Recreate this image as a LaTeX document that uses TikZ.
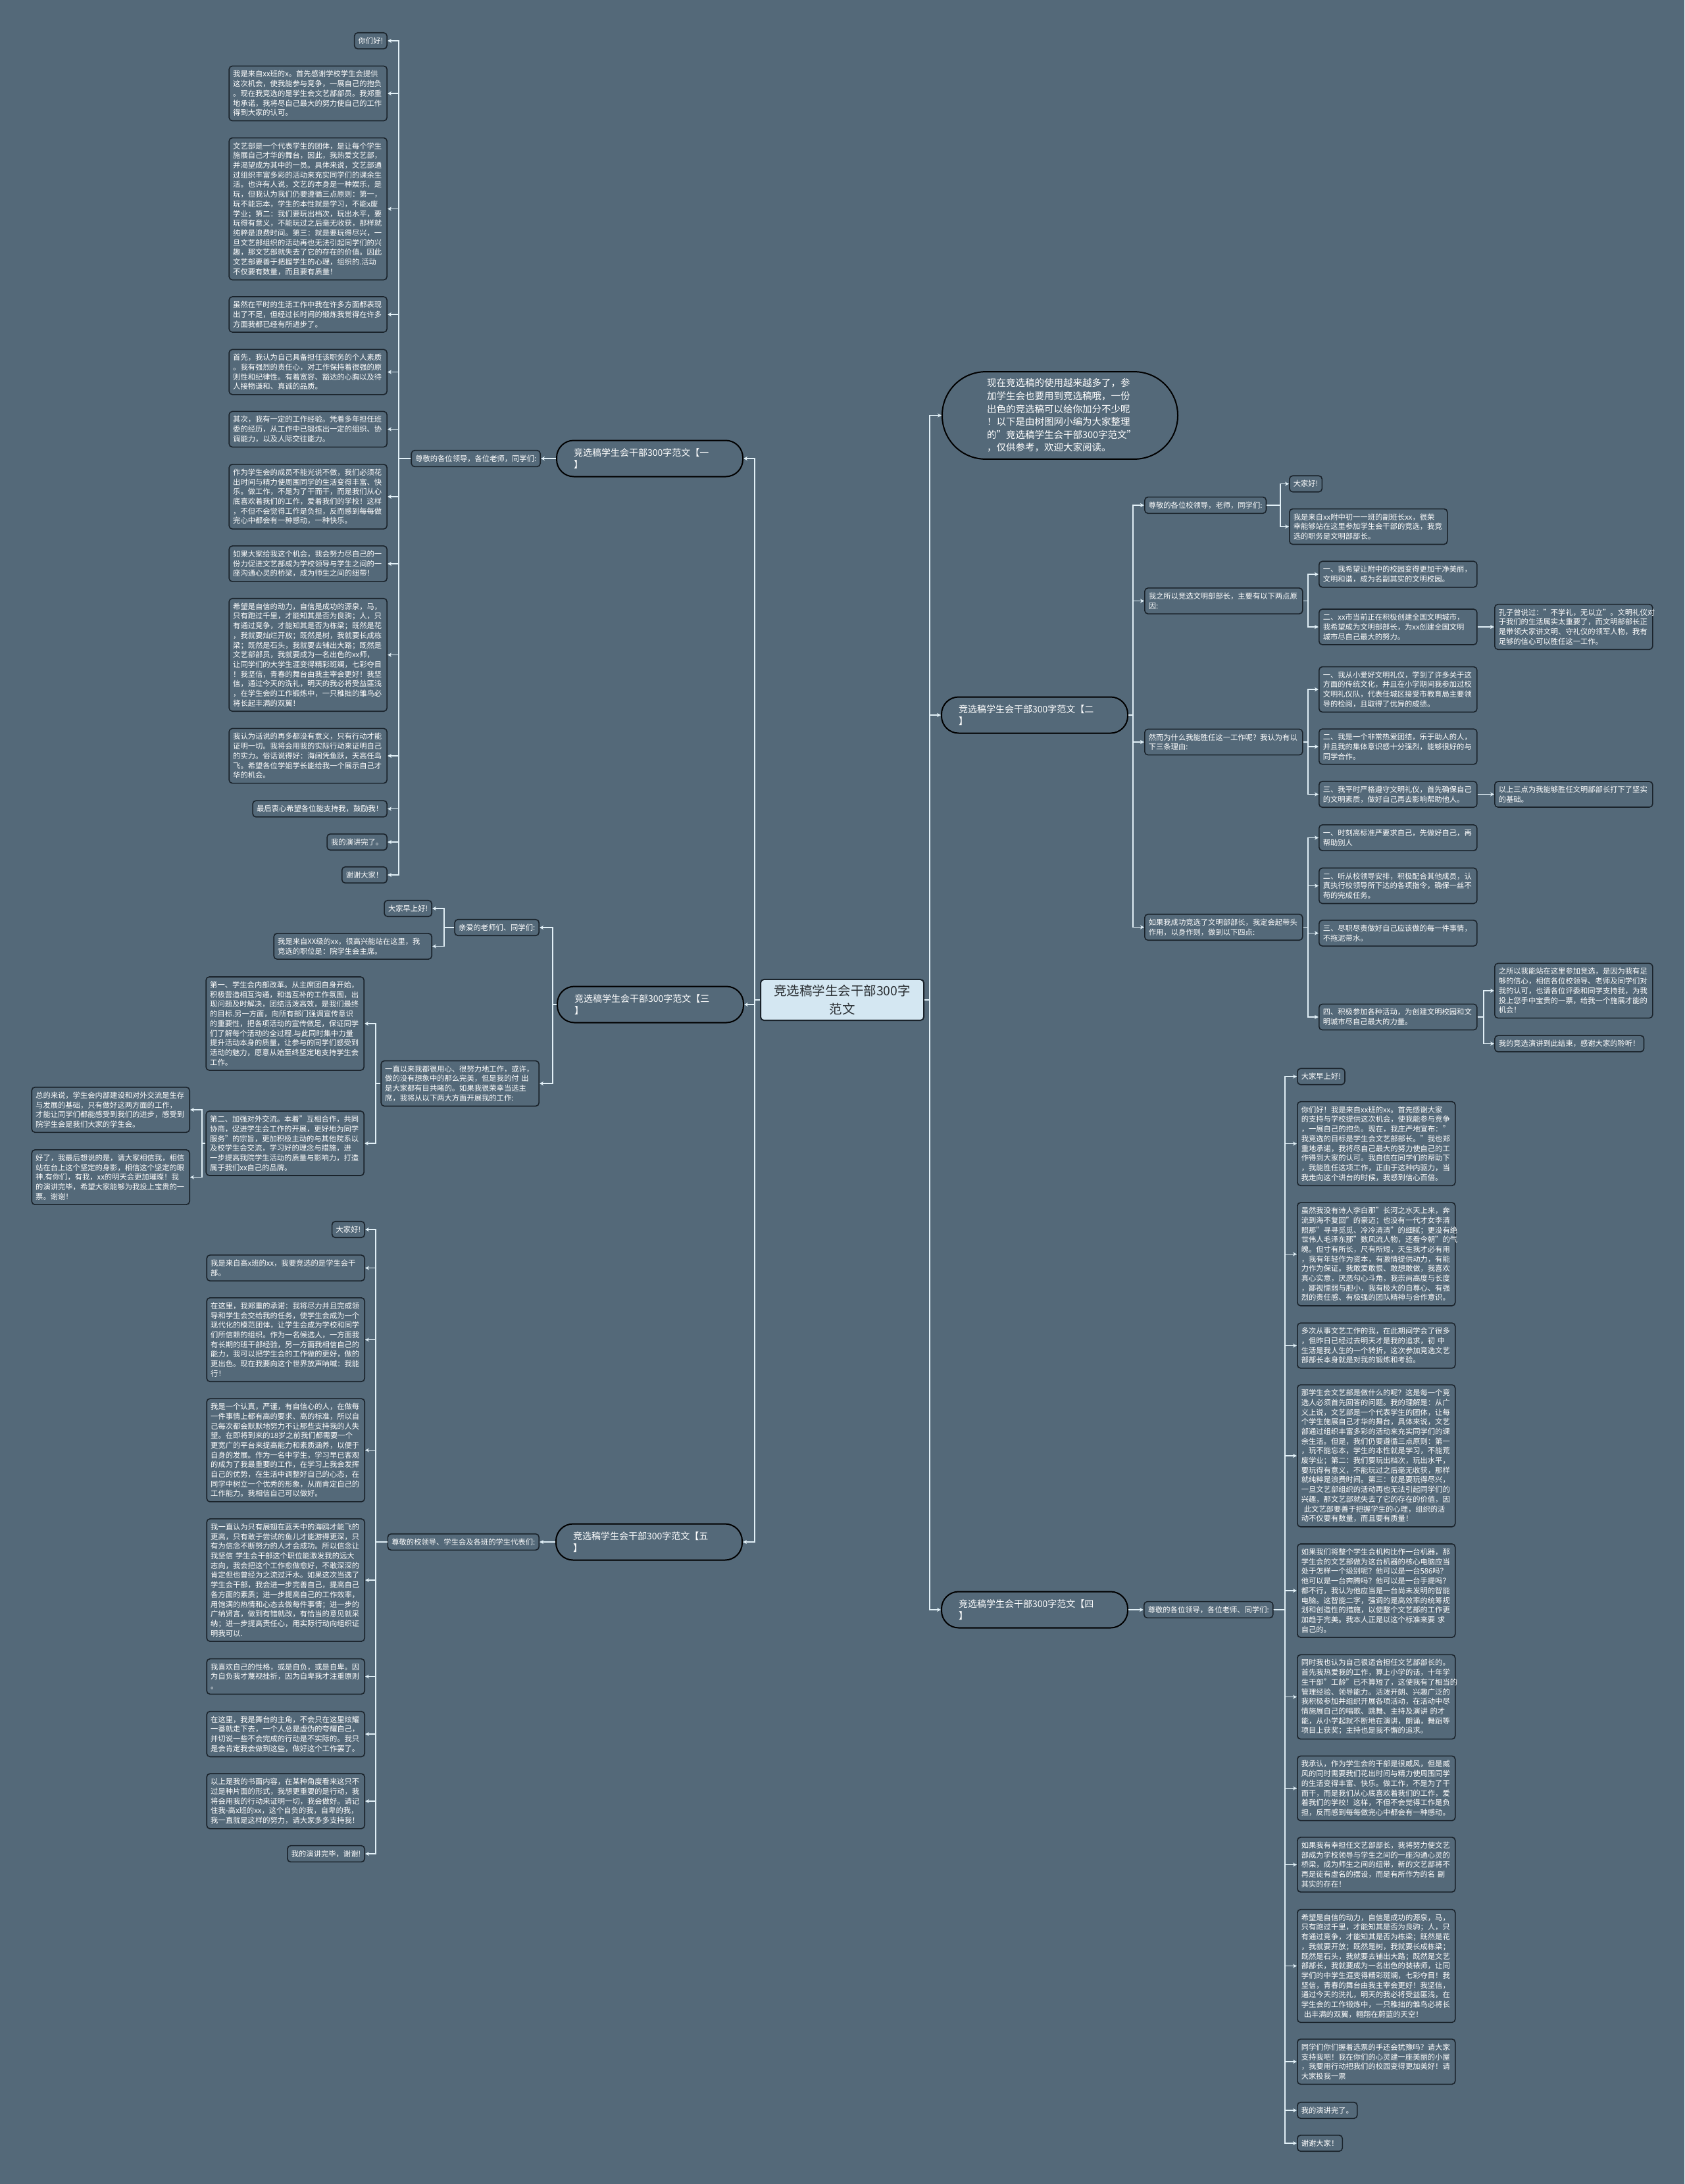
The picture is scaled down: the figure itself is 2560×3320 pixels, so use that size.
\documentclass[tikz,border=0pt]{standalone}
\usepackage{fontspec}
\setmainfont{Noto Sans CJK SC}
\usetikzlibrary{arrows.meta}
\definecolor{bgc}{HTML}{546979}
\definecolor{nodeline}{HTML}{1A232B}
\definecolor{linec}{HTML}{E2F0F7}
\definecolor{rootfill}{HTML}{D4E7F2}
\definecolor{roottext}{HTML}{2A2F33}
\begin{document}
\begin{tikzpicture}[x=1pt,y=-1pt,
 leaf/.style={draw=nodeline,line width=1.6pt,fill=bgc,rounded corners=5pt,text=white,
   font=\fontsize{11.3}{14.7}\selectfont,inner xsep=6pt,inner ysep=7pt,align=left},
 wide/.style={leaf,text width=228pt},
 branch/.style={draw=black,line width=2pt,fill=bgc,rounded corners=26pt,text=white,
   font=\fontsize{14}{18.3}\selectfont,text width=231pt,inner xsep=26pt,inner ysep=9pt,
   align=left,minimum height=55pt},
 introbox/.style={draw=black,line width=2pt,fill=bgc,rounded corners=66pt,text=white,
   font=\fontsize{14.5}{19.6}\selectfont,text width=222pt,inner xsep=68pt,inner ysep=10.5pt,
   align=left},
 rootbox/.style={draw=nodeline,line width=2pt,fill=rootfill,rounded corners=5pt,text=roottext,
   font=\fontsize{19.5}{28}\selectfont,text width=228pt,inner xsep=10pt,inner ysep=8pt,align=center},
 conn/.style={draw=linec,line width=1.6pt,-{Stealth[length=6pt,width=6pt]}}]
\useasboundingbox (0,0) rectangle (2560,3320);
\fill[bgc] (0,0) rectangle (2560,3320);

% ---------- root ----------
\node[rootbox] (root) at (1280,1520) {竞选稿学生会干部300字\\范文};

% ---------- branch nodes ----------
\node[branch,anchor=east] (b1) at (1130,697) {竞选稿学生会干部300字范文【一\\】};
\node[branch,anchor=east] (b3) at (1131,1527) {竞选稿学生会干部300字范文【三\\】};
\node[branch,anchor=east] (b5) at (1129,2344) {竞选稿学生会干部300字范文【五\\】};
\node[introbox,anchor=west] (intro) at (1431,631.5) {现在竞选稿的使用越来越多了，参\\加学生会也要用到竞选稿哦，一份\\出色的竞选稿可以给你加分不少呢\\！以下是由树图网小编为大家整理\\的"竞选稿学生会干部300字范文"\\，仅供参考，欢迎大家阅读。};
\node[branch,anchor=west] (b2) at (1430,1087) {竞选稿学生会干部300字范文【二\\】};
\node[branch,anchor=west] (b4) at (1430,2447) {竞选稿学生会干部300字范文【四\\】};

% ---------- branch 1 ----------
\node[leaf,anchor=east] (l1) at (822,697) {尊敬的各位领导，各位老师，同学们:};
\node[leaf,anchor=east] (n1a) at (589,62) {你们好!};
\node[wide,anchor=east] (n1b) at (589,142) {我是来自xx班的x。首先感谢学校学生会提供\\这次机会，使我能参与竞争，一展自己的抱负\\。现在我竞选的是学生会文艺部部员。我郑重\\地承诺，我将尽自己最大的努力使自己的工作\\得到大家的认可。};
\node[wide,anchor=east] (n1c) at (589,317.5) {文艺部是一个代表学生的团体，是让每个学生\\施展自己才华的舞台，因此，我热爱文艺部，\\并渴望成为其中的一员。具体来说，文艺部通\\过组织丰富多彩的活动来充实同学们的课余生\\活。也许有人说，文艺的本身是一种娱乐，是\\玩，但我认为我们仍要遵循三点原则：第一，\\玩不能忘本，学生的本性就是学习，不能x废\\学业；第二：我们要玩出档次，玩出水平，要\\玩得有意义，不能玩过之后毫无收获，那样就\\纯粹是浪费时间。第三：就是要玩得尽兴，一\\旦文艺部组织的活动再也无法引起同学们的兴\\趣，那文艺部就失去了它的存在的价值。因此\\文艺部要善于把握学生的心理，组织的.活动\\不仅要有数量，而且要有质量！};
\node[wide,anchor=east] (n1d) at (589,478) {虽然在平时的生活工作中我在许多方面都表现\\出了不足，但经过长时间的锻炼我觉得在许多\\方面我都已经有所进步了。};
\node[wide,anchor=east] (n1e) at (589,565.5) {首先，我认为自己具备担任该职务的个人素质\\。我有强烈的责任心，对工作保持着很强的原\\则性和纪律性。有着宽容、豁达的心胸以及待\\人接物谦和、真诚的品质。};
\node[wide,anchor=east] (n1f) at (589,652.5) {其次，我有一定的工作经验。凭着多年担任班\\委的经历，从工作中已锻炼出一定的组织、协\\调能力，以及人际交往能力。};
\node[wide,anchor=east] (n1g) at (589,755) {作为学生会的成员不能光说不做，我们必须花\\出时间与精力使周围同学的生活变得丰富、快\\乐。做工作，不是为了干而干，而是我们从心\\底喜欢着我们的工作，爱着我们的学校！这样\\，不但不会觉得工作是负担，反而感到每每做\\完心中都会有一种感动，一种快乐。};
\node[wide,anchor=east] (n1h) at (589,857) {如果大家给我这个机会，我会努力尽自己的一\\份力促进文艺部成为学校领导与学生之间的一\\座沟通心灵的桥梁，成为师生之间的纽带！};
\node[wide,anchor=east] (n1i) at (589,995.5) {希望是自信的动力，自信是成功的源泉，马，\\只有跑过千里，才能知其是否为良驹；人，只\\有通过竞争，才能知其是否为栋梁；既然是花\\，我就要灿烂开放；既然是树，我就要长成栋\\梁；既然是石头，我就要去铺出大路；既然是\\文艺部部员，我就要成为一名出色的xx师，\\让同学们的大学生涯变得精彩斑斓，七彩夺目\\！我坚信，青春的舞台由我主宰会更好！我坚\\信，通过今天的洗礼，明天的我必将受益匪浅\\，在学生会的工作锻炼中，一只稚拙的雏鸟必\\将长起丰满的双翼！};
\node[wide,anchor=east] (n1j) at (589,1149) {我认为话说的再多都没有意义，只有行动才能\\证明一切。我将会用我的实际行动来证明自己\\的实力。俗话说得好：海阔凭鱼跃，天高任鸟\\飞。希望各位学姐学长能给我一个展示自己才\\华的机会。};
\node[leaf,anchor=east] (n1k) at (589,1229.5) {最后衷心希望各位能支持我，鼓励我！};
\node[leaf,anchor=east] (n1l) at (589,1280) {我的演讲完了。};
\node[leaf,anchor=east] (n1m) at (589,1330) {谢谢大家！};

% ---------- branch 3 ----------
\node[leaf,anchor=east] (l3a) at (820,1410) {亲爱的老师们、同学们:};
\node[leaf,anchor=east] (n3a) at (657,1381) {大家早上好!};
\node[wide,anchor=east] (n3b) at (657,1438.5) {我是来自XX级的xx，很高兴能站在这里，我\\竞选的职位是：院学生会主席。};
\node[wide,anchor=east] (l3b) at (820,1647) {一直以来我都很用心、很努力地工作，或许，\\做的没有想象中的那么完美，但是我的付 出\\是大家都有目共睹的。如果我很荣幸当选主\\席，我将从以下两大方面开展我的工作:};
\node[wide,anchor=east] (n3c) at (554,1556) {第一、学生会内部改革。从主席团自身开始，\\积极营造相互沟通，和谐互补的工作氛围，出\\现问题及时解决，团结活泼高效，是我们最终\\的目标.另一方面，向所有部门强调宣传意识\\的重要性，把各项活动的宣传做足，保证同学\\们了解每个活动的全过程.与此同时集中力量\\提升活动本身的质量，让参与的同学们感受到\\活动的魅力，愿意从始至终坚定地支持学生会\\工作。};
\node[wide,anchor=east] (n3d) at (554,1738) {第二、加强对外交流。本着"互相合作，共同\\协商，促进学生会工作的开展，更好地为同学\\服务"的宗旨，更加积极主动的与其他院系以\\及校学生会交流，学习好的理念与措施，进\\一步提高我院学生活动的质量与影响力，打造\\属于我们xx自己的品牌。};
\node[wide,anchor=east] (n3e) at (289,1687) {总的来说，学生会内部建设和对外交流是生存\\与发展的基础，只有做好这两方面的工作，\\才能让同学们都能感受到我们的进步，感受到\\院学生会是我们大家的学生会。};
\node[wide,anchor=east] (n3f) at (289,1789.5) {好了，我最后想说的是，请大家相信我，相信\\站在台上这个坚定的身影，相信这个坚定的眼\\神.有你们，有我，xx的明天会更加璀璨！我\\的演讲完毕，希望大家能够为我投上宝贵的一\\票。谢谢！};

% ---------- branch 5 ----------
\node[leaf,anchor=east] (l5) at (820,2344) {尊敬的校领导、学生会及各班的学生代表们:};
\node[leaf,anchor=east] (n5a) at (555,1869) {大家好!};
\node[wide,anchor=east] (n5b) at (555,1927.5) {我是来自高x班的xx，我要竞选的是学生会干\\部。};
\node[wide,anchor=east] (n5c) at (555,2036.5) {在这里，我郑重的承诺：我将尽力并且完成领\\导和学生会交给我的任务，使学生会成为一个\\现代化的模范团体，让学生会成为学校和同学\\们所信赖的组织。作为一名候选人，一方面我\\有长期的班干部经验，另一方面我相信自己的\\能力，我可以把学生会的工作做的更好，做的\\更出色。现在我要向这个世界放声呐喊：我能\\行！};
\node[wide,anchor=east] (n5d) at (555,2204.5) {我是一个认真，严谨，有自信心的人，在做每\\一件事情上都有高的要求、高的标准，所以自\\己每次都会默默地努力不让那些支持我的人失\\望。在即将到来的18岁之前我们都需要一个\\更宽广的平台来提高能力和素质涵养，以便于\\自身的发展。作为一名中学生，学习早已客观\\的成为了我最重要的工作，在学习上我会发挥\\自己的优势，在生活中调整好自己的心态，在\\同学中树立一个优秀的形象，从而肯定自己的\\工作能力。我相信自己可以做好。};
\node[wide,anchor=east] (n5e) at (555,2402) {我一直认为只有展翅在蓝天中的海鸥才能飞的\\更高，只有敢于尝试的鱼儿才能游得更深，只\\有为信念不断努力的人才会成功。所以信念让\\我坚信 学生会干部这个职位能激发我的远大\\志向，我会把这个工作愈做愈好，不敢深深的\\肯定但也曾经为之流过汗水。如果这次当选了\\学生会干部，我会进一步完善自己，提高自己\\各方面的素质；进一步提高自己的工作效率，\\用饱满的热情和心态去做每件事情；进一步的\\广纳贤言，做到有错就改，有恰当的意见就采\\纳；进一步提高责任心，用实际行动向组织证\\明我可以.};
\node[wide,anchor=east] (n5f) at (555,2548.5) {我喜欢自己的性格，或是自负，或是自卑。因\\为自负我才蔑视挫折，因为自卑我才注重原则\\。};
\node[wide,anchor=east] (n5g) at (555,2636) {在这里，我是舞台的主角，不会只在这里炫耀\\一番就走下去，一个人总是虚伪的夸耀自己，\\并切说一些不会完成的行动是不实际的。我只\\是会肯定我会做到这些，做好这个工作罢了。};
\node[wide,anchor=east] (n5h) at (555,2738) {以上是我的书面内容，在某种角度看来这只不\\过是种片面的形式，我想更重要的是行动，我\\将会用我的行动来证明一切，我会做好。请记\\住我-高x班的xx，这个自负的我，自卑的我，\\我一直就是这样的努力，请大家多多支持我！};
\node[leaf,anchor=east] (n5i) at (555,2818) {我的演讲完毕，谢谢!};

% ---------- branch 2 ----------
\node[leaf,anchor=west] (l2a) at (1739,768) {尊敬的各位校领导，老师，同学们:};
\node[leaf,anchor=west] (n2a) at (1959,735.5) {大家好!};
\node[wide,anchor=west] (n2b) at (1959,800.5) {我是来自xx附中初一一班的副班长xx，很荣\\幸能够站在这里参加学生会干部的竞选，我竞\\选的职务是文明部部长。};
\node[wide,anchor=west] (l2b) at (1739,913.5) {我之所以竞选文明部部长，主要有以下两点原\\因:};
\node[wide,anchor=west] (n2c) at (2004,873) {一、我希望让附中的校园变得更加干净美丽，\\文明和谐，成为名副其实的文明校园。};
\node[wide,anchor=west] (n2d) at (2004,953) {二、xx市当前正在积极创建全国文明城市，\\我希望成为文明部部长，为xx创建全国文明\\城市尽自己最大的努力。};
\node[wide,anchor=west] (n2e) at (2271,953) {孔子曾说过："不学礼，无以立"。文明礼仪对\\于我们的生活属实太重要了，而文明部部长正\\是带领大家讲文明、守礼仪的领军人物，我有\\足够的信心可以胜任这一工作。};
\node[wide,anchor=west] (l2c) at (1739,1128) {然而为什么我能胜任这一工作呢？我认为有以\\下三条理由:};
\node[wide,anchor=west] (n2f) at (2004,1048) {一、我从小爱好文明礼仪，学到了许多关于这\\方面的传统文化，并且在小学期间我参加过校\\文明礼仪队，代表任城区接受市教育局主要领\\导的检阅，且取得了优异的成绩。};
\node[wide,anchor=west] (n2g) at (2004,1135) {二、我是一个非常热爱团结，乐于助人的人，\\并且我的集体意识感十分强烈，能够很好的与\\同学合作。};
\node[wide,anchor=west] (n2h) at (2004,1207.5) {三、我平时严格遵守文明礼仪，首先确保自己\\的文明素质，做好自己再去影响帮助他人。};
\node[wide,anchor=west] (n2i) at (2271,1207.5) {以上三点为我能够胜任文明部部长打下了坚实\\的基础。};
\node[wide,anchor=west] (l2d) at (1739,1409.5) {如果我成功竞选了文明部部长，我定会起带头\\作用，以身作则，做到以下四点:};
\node[wide,anchor=west] (n2j) at (2004,1273.5) {一、时刻高标准严要求自己，先做好自己，再\\帮助别人};
\node[wide,anchor=west] (n2k) at (2004,1346.5) {二、听从校领导安排，积极配合其他成员，认\\真执行校领导所下达的各项指令，确保一丝不\\苟的完成任务。};
\node[wide,anchor=west] (n2l) at (2004,1418.5) {三、尽职尽责做好自己应该做的每一件事情，\\不拖泥带水。};
\node[wide,anchor=west] (n2m) at (2004,1546) {四、积极参加各种活动，为创建文明校园和文\\明城市尽自己最大的力量。};
\node[wide,anchor=west] (n2n) at (2271,1506) {之所以我能站在这里参加竞选，是因为我有足\\够的信心，相信各位校领导、老师及同学们对\\我的认可，也请各位评委和同学支持我，为我\\投上您手中宝贵的一票，给我一个施展才能的\\机会！};
\node[leaf,anchor=west] (n2o) at (2271,1586.5) {我的竞选演讲到此结束，感谢大家的聆听！};

% ---------- branch 4 ----------
\node[leaf,anchor=west] (l4) at (1738,2447) {尊敬的各位领导，各位老师、同学们:};
\node[leaf,anchor=west] (n4a) at (1971,1636.5) {大家早上好!};
\node[wide,anchor=west] (n4b) at (1971,1738.5) {你们好！我是来自xx班的xx。首先感谢大家\\的支持与学校提供这次机会，使我能参与竞争\\，一展自己的抱负。现在，我庄严地宣布："\\我竞选的目标是学生会文艺部部长。"我也郑\\重地承诺，我将尽自己最大的努力使自己的工\\作得到大家的认可。我自信在同学们的帮助下\\，我能胜任这项工作，正由于这种内驱力，当\\我走向这个讲台的时候，我感到信心百倍。};
\node[wide,anchor=west] (n4c) at (1971,1906.5) {虽然我没有诗人李白那"长河之水天上来，奔\\流到海不复回"的豪迈；也没有一代才女李清\\照那"寻寻觅觅、冷冷清清"的细腻；更没有绝\\世伟人毛泽东那"数风流人物，还看今朝"的气\\魄。但寸有所长，尺有所短，天生我才必有用\\，我有年轻作为资本，有激情提供动力，有能\\力作为保证。我敢爱敢恨、敢想敢做，我喜欢\\真心实意，厌恶勾心斗角，我崇尚高度与长度\\，鄙视懦弱与胆小，我有极大的自尊心、有强\\烈的责任感、有极强的团队精神与合作意识。};
\node[wide,anchor=west] (n4d) at (1971,2045.5) {多次从事文艺工作的我，在此期间学会了很多\\，但昨日已经过去明天才是我的追求，初 中\\生活是我人生的一个转折，这次参加竞选文艺\\部部长本身就是对我的锻炼和考验。};
\node[wide,anchor=west] (n4e) at (1971,2213) {那学生会文艺部是做什么的呢？这是每一个竞\\选人必须首先回答的问题。我的理解是：从广\\义上说，文艺部是一个代表学生的团体，让每\\个学生施展自己才华的舞台，具体来说，文艺\\部通过组织丰富多彩的活动来充实同学们的课\\余生活。但是，我们仍要遵循三点原则：第一\\，玩不能忘本，学生的本性就是学习，不能荒\\废学业；第二：我们要玩出档次，玩出水平，\\要玩得有意义，不能玩过之后毫无收获，那样\\就纯粹是浪费时间。第三：就是要玩得尽兴，\\一旦文艺部组织的活动再也无法引起同学们的\\兴趣，那文艺部就失去了它的存在的价值，因\\\hspace*{4pt}此文艺部要善于把握学生的心理，组织的活\\动不仅要有数量，而且要有质量！};
\node[wide,anchor=west] (n4f) at (1971,2418) {如果我们将整个学生会机构比作一台机器，那\\学生会的文艺部做为这台机器的核心电脑应当\\处于怎样一个级别呢？他可以是一台586吗？\\他可以是一台奔腾吗？他可以是一台手提吗？\\都不行，我认为他应当是一台尚未发明的智能\\电脑。这智能二字，强调的是高效率的统筹规\\划和创造性的措施，以使整个文艺部的工作更\\加趋于完美。我本人正是以这个标准来要 求\\自己的。};
\node[wide,anchor=west] (n4g) at (1971,2579.5) {同时我也认为自己很适合担任文艺部部长的。\\首先我热爱我的工作，算上小学的话，十年学\\生干部"工龄"已不算短了，这使我有了相当的\\管理经验、领导能力。活泼开朗、兴趣广泛的\\我积极参加并组织开展各项活动，在活动中尽\\情施展自己的唱歌、跳舞、主持及演讲 的才\\能，从小学起就不断地在演讲，朗诵，舞蹈等\\项目上获奖；主持也是我不懈的追求。};
\node[wide,anchor=west] (n4h) at (1971,2718.5) {我承认，作为学生会的干部是很威风，但是威\\风的同时需要我们花出时间与精力使周围同学\\的生活变得丰富、快乐。做工作，不是为了干\\而干，而是我们从心底喜欢着我们的工作，爱\\着我们的学校！这样，不但不会觉得工作是负\\担，反而感到每每做完心中都会有一种感动。};
\node[wide,anchor=west] (n4i) at (1971,2834.5) {如果我有幸担任文艺部部长，我将努力使文艺\\部成为学校领导与学生之间的一座沟通心灵的\\桥梁，成为师生之间的纽带，新的文艺部将不\\再是徒有虚名的摆设，而是有所作为的名 副\\其实的存在！};
\node[wide,anchor=west] (n4j) at (1971,2988.5) {希望是自信的动力，自信是成功的源泉，马，\\只有跑过千里，才能知其是否为良驹；人，只\\有通过竞争，才能知其是否为栋梁；既然是花\\，我就要开放；既然是树，我就要长成栋梁；\\既然是石头，我就要去铺出大路；既然是文艺\\部部长，我就要成为一名出色的装裱师，让同\\学们的中学生涯变得精彩斑斓，七彩夺目！我\\坚信，青春的舞台由我主宰会更好！我坚信，\\通过今天的洗礼，明天的我必将受益匪浅，在\\学生会的工作锻炼中，一只稚拙的雏鸟必将长\\\hspace*{4pt}出丰满的双翼，翱翔在蔚蓝的天空！};
\node[wide,anchor=west] (n4k) at (1971,3134) {同学们你们握着选票的手还会犹豫吗？请大家\\支持我吧！我在你们的心灵建一座美丽的小屋\\，我要用行动把我们的校园变得更加美好！请\\大家投我一票};
\node[leaf,anchor=west] (n4l) at (1971,3208) {我的演讲完了。};
\node[leaf,anchor=west] (n4m) at (1971,3258) {谢谢大家！};

% ---------- connectors: root ----------
\foreach \b in {b1,b3,b5}
  \draw[conn] (root.west) -- (root.west -| 1147,0) |- (\b.east);
\foreach \b in {intro,b2,b4}
  \draw[conn] (root.east) -- (root.east -| 1413,0) |- (\b.west);

% branch 1
\draw[conn] (b1.west) -- (b1.west -| l1.east);
\foreach \n in {n1a,n1b,n1c,n1d,n1e,n1f,n1g,n1h,n1i,n1j,n1k,n1l,n1m}
  \draw[conn] (l1.west) -- (l1.west -| 606,0) |- (\n.east);

% branch 3
\foreach \n in {l3a,l3b}
  \draw[conn] (b3.west) -- (b3.west -| 840,0) |- (\n.east);
\foreach \n in {n3a,n3b}
  \draw[conn] (l3a.west) -- (l3a.west -| 675,0) |- (\n.east);
\foreach \n in {n3c,n3d}
  \draw[conn] (l3b.west) -- (l3b.west -| 571,0) |- (\n.east);
\foreach \n in {n3e,n3f}
  \draw[conn] (n3d.west) -- (n3d.west -| 307,0) |- (\n.east);

% branch 5
\draw[conn] (b5.west) -- (b5.west -| l5.east);
\foreach \n in {n5a,n5b,n5c,n5d,n5e,n5f,n5g,n5h,n5i}
  \draw[conn] (l5.west) -- (l5.west -| 571,0) |- (\n.east);

% branch 2
\foreach \n in {l2a,l2b,l2c,l2d}
  \draw[conn] (b2.east) -- (b2.east -| 1722,0) |- (\n.west);
\foreach \n in {n2a,n2b}
  \draw[conn] (l2a.east) -- (l2a.east -| 1946,0) |- (\n.west);
\foreach \n in {n2c,n2d}
  \draw[conn] (l2b.east) -- (l2b.east -| 1988,0) |- (\n.west);
\draw[conn] (n2d.east) -- (n2d.east -| n2e.west);
\foreach \n in {n2f,n2g,n2h}
  \draw[conn] (l2c.east) -- (l2c.east -| 1988,0) |- (\n.west);
\draw[conn] (n2h.east) -- (n2h.east -| n2i.west);
\foreach \n in {n2j,n2k,n2l,n2m}
  \draw[conn] (l2d.east) -- (l2d.east -| 1988,0) |- (\n.west);
\foreach \n in {n2n,n2o}
  \draw[conn] (n2m.east) -- (n2m.east -| 2255,0) |- (\n.west);

% branch 4
\draw[conn] (b4.east) -- (b4.east -| l4.west);
\foreach \n in {n4a,n4b,n4c,n4d,n4e,n4f,n4g,n4h,n4i,n4j,n4k,n4l,n4m}
  \draw[conn] (l4.east) -- (l4.east -| 1953,0) |- (\n.west);
\end{tikzpicture}
\end{document}
